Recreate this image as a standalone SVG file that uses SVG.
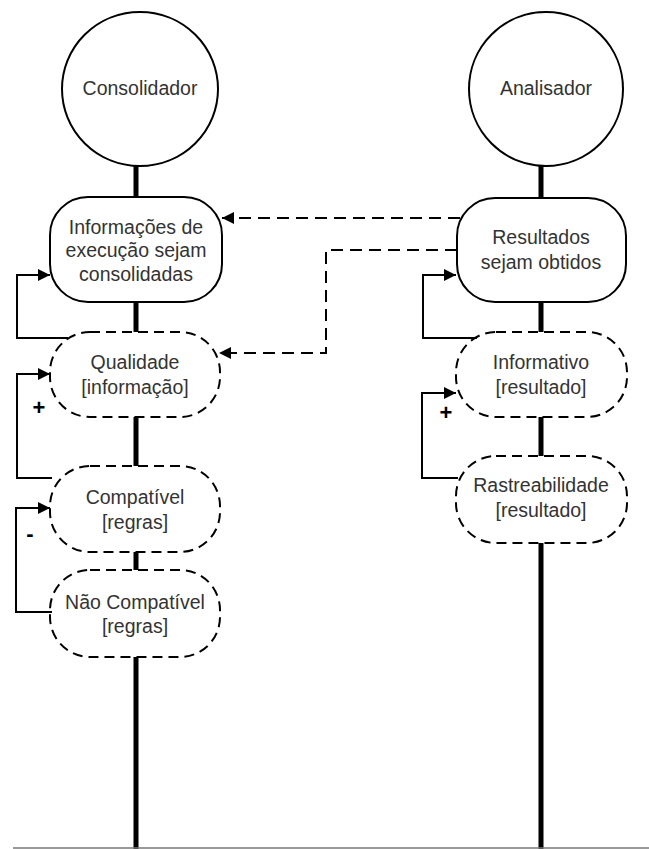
<svg xmlns="http://www.w3.org/2000/svg" width="649" height="849" viewBox="0 0 649 849">
<defs>
<marker id="ah" markerUnits="userSpaceOnUse" markerWidth="13" markerHeight="12" refX="12" refY="6" orient="auto">
<path d="M0,0 L12,6 L0,12 z" fill="#000"/>
</marker>
<style>
.t{font-family:"Liberation Sans",Arial,sans-serif;font-size:19.5px;fill:#333;text-anchor:middle}
.s{font-family:"Liberation Sans",Arial,sans-serif;font-size:22px;font-weight:bold;fill:#000;text-anchor:middle}
.life{stroke:#000;stroke-width:5;fill:none}
.solid{fill:#fff;stroke:#000;stroke-width:2}
.dash{fill:#fff;stroke:#000;stroke-width:2;stroke-dasharray:10,6}
.loop{fill:none;stroke:#000;stroke-width:2;marker-end:url(#ah)}
.dconn{fill:none;stroke:#000;stroke-width:2;stroke-dasharray:12,7;marker-end:url(#ah)}
</style>
</defs>
<rect width="649" height="849" fill="#fff"/>
<g id="lifelines">
<line class="life" x1="136" y1="166" x2="136" y2="849"/>
<line class="life" x1="541" y1="166" x2="541" y2="849"/>
<line x1="13" y1="848" x2="649" y2="848" stroke="#777" stroke-width="1.5"/>
</g>
<g id="consolidador">
<ellipse class="solid" cx="140" cy="89" rx="78" ry="77"/>
<text class="t" x="140" y="95">Consolidador</text>
</g>
<g id="analisador">
<ellipse class="solid" cx="546" cy="89" rx="77" ry="77"/>
<text class="t" x="546" y="95">Analisador</text>
</g>
<g id="informacoes">
<rect class="solid" x="50" y="197" width="172" height="105" rx="38" ry="38"/>
<text class="t" x="136" y="234">Informações de</text>
<text class="t" x="136" y="257">execução sejam</text>
<text class="t" x="136" y="281">consolidadas</text>
</g>
<g id="qualidade">
<rect class="dash" x="50" y="332" width="170" height="85" rx="40" ry="40"/>
<text class="t" x="135" y="369">Qualidade</text>
<text class="t" x="135" y="394">[informação]</text>
</g>
<g id="compativel">
<rect class="dash" x="50" y="466" width="170" height="86" rx="40" ry="40"/>
<text class="t" x="135" y="504">Compatível</text>
<text class="t" x="135" y="529">[regras]</text>
</g>
<g id="nao-compativel">
<rect class="dash" x="50" y="570" width="170" height="87" rx="40" ry="40"/>
<text class="t" x="135" y="609">Não Compatível</text>
<text class="t" x="135" y="633">[regras]</text>
</g>
<g id="resultados">
<rect class="solid" x="457" y="198" width="169" height="104" rx="38" ry="38"/>
<text class="t" x="541" y="244">Resultados</text>
<text class="t" x="541" y="269">sejam obtidos</text>
</g>
<g id="informativo">
<rect class="dash" x="456" y="332" width="171" height="85" rx="40" ry="40"/>
<text class="t" x="541" y="369">Informativo</text>
<text class="t" x="541" y="394">[resultado]</text>
</g>
<g id="rastreabilidade">
<rect class="dash" x="456" y="456" width="171" height="87" rx="40" ry="40"/>
<text class="t" x="541" y="492">Rastreabilidade</text>
<text class="t" x="541" y="517">[resultado]</text>
</g>
<g id="connectors">
<polyline class="loop" points="68,338 17,338 17,275 50,275"/>
<polyline class="loop" points="52,478 17,478 17,374 50,374"/>
<polyline class="loop" points="52,612 16,612 16,508 50,508"/>
<polyline class="loop" points="477,338 423,338 423,275 456,275"/>
<polyline class="loop" points="458,478 422,478 422,393 456,393"/>
<polyline class="dconn" points="460,218 222,218"/>
<polyline class="dconn" points="457,250 326,250 326,353 219,353"/>
<text class="s" x="39" y="415">+</text>
<text class="s" x="30" y="541">-</text>
<text class="s" x="446" y="420">+</text>
</g>
</svg>
